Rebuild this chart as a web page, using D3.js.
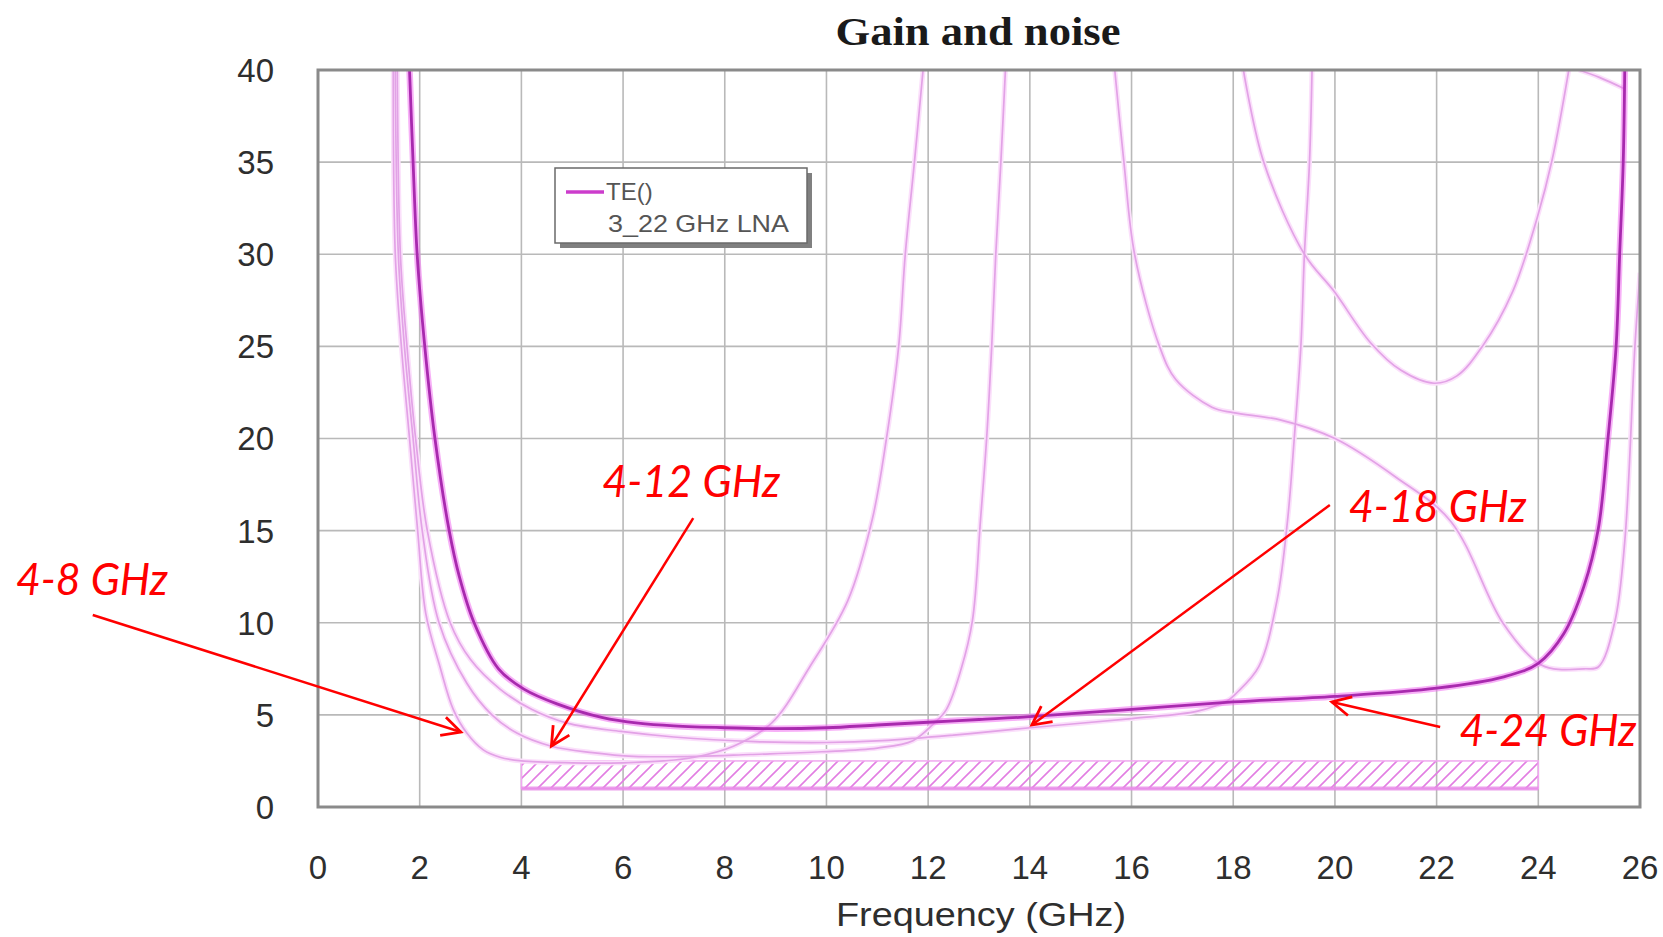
<!DOCTYPE html>
<html><head><meta charset="utf-8">
<script src="https://cdn.jsdelivr.net/npm/d3@7"></script>
<style>body{margin:0;background:#fff;}</style>
</head><body>
<svg id="chart" width="1663" height="937"></svg>
<script>
// ---------- data ----------
const xTicks = [0,2,4,6,8,10,12,14,16,18,20,22,24,26];
const yTicks = [0,5,10,15,20,25,30,35,40];
const chartTitle = "Gain and noise";
const xTitle = "Frequency (GHz)";
const legendLabels = ["TE()", "3_22 GHz LNA"];

// main TE() trace (4-24 GHz design) [GHz, value]
const mainTE = [[1.80,40],[1.87,35],[1.95,30],[2.10,25],[2.30,20],[2.58,15],[2.78,12.5],[3.07,10],[3.55,7.5],[4.05,6.4],[4.70,5.6],[5.60,4.85],[6.30,4.55],[7.0,4.4],[8.0,4.3],[9.0,4.25],[10.0,4.3],[11.0,4.45],[12.0,4.6],[13.0,4.75],[14.0,4.9],[16.0,5.3],[18.0,5.7],[20.0,6.0],[22.0,6.45],[23.3,7.05],[24.0,7.8],[24.5,9.4],[24.9,12.0],[25.18,15.1],[25.37,20],[25.53,25],[25.6,30],[25.67,35],[25.7,40]];
// other designs (light traces)
const curve4to8 = [[1.48,40],[1.52,30],[1.64,25],[1.80,20],[1.96,15],[2.12,10.5],[2.4,7.6],[2.66,5.3],[2.93,4.0],[3.25,3.1],[3.58,2.7],[4.0,2.5],[5.0,2.4],[6.0,2.4],[6.8,2.5],[7.4,2.7],[8.17,3.3],[8.92,4.55],[9.67,7.6],[10.42,11.2],[10.9,15.6],[11.18,20],[11.42,25],[11.55,30],[11.73,35],[11.9,40]];
const curve4to12 = [[1.52,40],[1.58,30],[1.70,25],[1.87,20],[2.05,15],[2.38,10],[2.93,6.7],[3.42,5.0],[3.92,4.0],[4.59,3.3],[5.4,2.95],[6.2,2.75],[7.5,2.75],[8.5,2.85],[9.9,3.0],[11.0,3.2],[11.7,3.6],[12.1,4.5],[12.36,5.3],[12.65,7.5],[12.87,10.1],[13.03,15.6],[13.15,20],[13.25,25],[13.33,30],[13.43,35],[13.52,40]];
const curve4to18 = [[1.56,40],[1.62,30],[1.75,25],[1.92,20],[2.15,15],[2.6,10],[3.0,8.0],[3.58,6.4],[4.2,5.3],[4.9,4.55],[5.96,4.1],[7.0,3.8],[8.6,3.55],[10.0,3.5],[11.1,3.6],[12.5,3.9],[14.0,4.3],[16.0,4.8],[17.3,5.2],[17.9,5.8],[18.07,6.2],[18.5,7.6],[18.86,11.2],[19.07,15.6],[19.2,20],[19.33,25],[19.4,30],[19.5,35],[19.55,40]];
const curveDesc = [[15.67,40],[15.85,35],[16.06,30],[16.55,25],[16.87,23.2],[17.58,21.7],[18.0,21.4],[18.94,21.0],[20.0,20.0],[21.2,17.9],[22.28,15.5],[23.3,10.0],[24.0,7.8],[24.3,7.5],[24.9,7.5],[25.18,7.6],[25.5,10],[25.7,14.4],[25.9,25],[26.0,29]];
const curveU = [[18.2,40],[18.6,35],[19.4,30],[19.98,28],[20.7,25.2],[21.3,23.7],[21.95,23.0],[22.4,23.4],[22.9,25],[23.5,28],[23.98,32],[24.27,35.1],[24.6,40]];
const curveTop = [[24.8,40],[25.2,39.6],[25.68,39.0]];
// hatched noise goal region [fStart, fEnd, low, high]
const goalBox = [4, 24, 1.0, 2.5];
// annotations in data units: text anchor (x,y), arrow start, arrow tip
const annLabels = ["4-8 GHz","4-12 GHz","4-18 GHz","4-24 GHz"];
const annText   = [[-5.94,11.5],[5.59,16.85],[20.27,15.45],[22.45,3.3]];
const annFrom   = [[-4.43,10.42],[7.38,15.68],[19.9,16.39],[22.07,4.34]];
const annTo     = [[2.81,4.07],[4.59,3.31],[14.04,4.45],[19.94,5.70]];
const annWidth  = [152,178,178,177];

// ---------- chart ----------
const svg = d3.select("#chart");
const L = 318, R = 1640, T = 70, B = 807;
const x = d3.scaleLinear().domain([0,26]).range([L,R]);
const y = d3.scaleLinear().domain([0,40]).range([B,T]);

svg.append("rect").attr("width",1663).attr("height",937).attr("fill","#fff");

const defs = svg.append("defs");
defs.append("clipPath").attr("id","plotClip").append("rect")
  .attr("x",L).attr("y",T).attr("width",R-L).attr("height",B-T);
const pat = defs.append("pattern").attr("id","hatch").attr("patternUnits","userSpaceOnUse")
  .attr("width",13).attr("height",13);
pat.append("path").attr("d","M-3,3 L3,-3 M0,13 L13,0 M10,16 L16,10")
  .attr("stroke","#e27ee2").attr("stroke-width",1.6).attr("fill","none");

// grid
const grid = svg.append("g");
grid.selectAll(".vg").data(xTicks).join("line")
  .attr("x1",d=>x(d)).attr("x2",d=>x(d)).attr("y1",T).attr("y2",B)
  .attr("stroke","#b9b9b9").attr("stroke-width",1.6);
grid.selectAll(".hg").data(yTicks).join("line")
  .attr("x1",L).attr("x2",R).attr("y1",d=>y(d)).attr("y2",d=>y(d))
  .attr("stroke","#b9b9b9").attr("stroke-width",1.6);

const plot = svg.append("g").attr("clip-path","url(#plotClip)");

// goal box
plot.append("rect")
  .attr("x",x(goalBox[0])).attr("y",y(goalBox[3]))
  .attr("width",x(goalBox[1])-x(goalBox[0])).attr("height",y(goalBox[2])-y(goalBox[3]))
  .attr("fill","url(#hatch)").attr("stroke","#f0a8f0").attr("stroke-width",1.5);
plot.append("line")
  .attr("x1",x(goalBox[0])).attr("x2",x(goalBox[1]))
  .attr("y1",y(goalBox[2])).attr("y2",y(goalBox[2]))
  .attr("stroke","#e88ae8").attr("stroke-width",4).attr("opacity",0.8);

const line = d3.line().x(d=>x(d[0])).y(d=>y(d[1])).curve(d3.curveCatmullRom.alpha(0.5));
const lightCurves = [curve4to8, curve4to12, curve4to18, curveDesc, curveU, curveTop];
plot.selectAll(".lh").data(lightCurves).join("path")
  .attr("d",line).attr("fill","none").attr("stroke","#fbe0fb").attr("stroke-width",5);
plot.selectAll(".lc").data(lightCurves).join("path")
  .attr("d",line).attr("fill","none").attr("stroke","#e2a2e6").attr("stroke-width",1.7);

// main trace
plot.append("path").datum(mainTE).attr("d",line).attr("fill","none")
  .attr("stroke","#f070f0").attr("stroke-width",6.5).attr("opacity",0.55);
plot.append("path").datum(mainTE).attr("d",line).attr("fill","none")
  .attr("stroke","#a82aae").attr("stroke-width",2.8);

// border
svg.append("rect").attr("x",L).attr("y",T).attr("width",R-L).attr("height",B-T)
  .attr("fill","none").attr("stroke","#8a8a8a").attr("stroke-width",3);

// tick labels
svg.append("g").selectAll("text").data(yTicks).join("text")
  .attr("x",L-44).attr("y",d=>y(d)).attr("dy","0.36em")
  .attr("text-anchor","end").attr("font-family","Liberation Sans, Arial, sans-serif")
  .attr("font-size",33).attr("fill","#2e2e2e").text(d=>d);
svg.append("g").selectAll("text").data(xTicks).join("text")
  .attr("x",d=>x(d)).attr("y",B+72)
  .attr("text-anchor","middle").attr("font-family","Liberation Sans, Arial, sans-serif")
  .attr("font-size",33).attr("fill","#2e2e2e").text(d=>d);

// axis title
svg.append("text").attr("x",(L+R)/2+2).attr("y",926).attr("text-anchor","middle")
  .attr("font-family","Liberation Sans, Arial, sans-serif").attr("font-size",34)
  .attr("fill","#2e2e2e").attr("textLength",290).attr("lengthAdjust","spacingAndGlyphs")
  .text(xTitle);

// title
svg.append("text").attr("x",978).attr("y",45).attr("text-anchor","middle")
  .attr("font-family","Liberation Serif, Times New Roman, serif").attr("font-weight","bold")
  .attr("font-size",40).attr("fill","#1a1a1a").attr("textLength",285).attr("lengthAdjust","spacingAndGlyphs")
  .text(chartTitle);

// legend
const lg = svg.append("g");
lg.append("rect").attr("x",560).attr("y",173).attr("width",252).attr("height",75).attr("fill","#808080");
lg.append("rect").attr("x",555).attr("y",168).attr("width",252).attr("height",75)
  .attr("fill","#fff").attr("stroke","#6a6a6a").attr("stroke-width",1.5);
lg.append("line").attr("x1",566).attr("x2",604).attr("y1",192).attr("y2",192)
  .attr("stroke","#cc3ccc").attr("stroke-width",3.5);
lg.append("text").attr("x",606).attr("y",200).attr("font-family","Liberation Sans, Arial, sans-serif")
  .attr("font-size",24).attr("fill","#555").text(legendLabels[0]);
lg.append("text").attr("x",608).attr("y",232).attr("font-family","Liberation Sans, Arial, sans-serif")
  .attr("font-size",24).attr("fill","#555").attr("textLength",181).attr("lengthAdjust","spacingAndGlyphs")
  .text(legendLabels[1]);

// annotations
const ann = svg.append("g");
annLabels.forEach((lab,i)=>{
  ann.append("text").attr("x",x(annText[i][0])).attr("y",y(annText[i][1]))
    .attr("font-family","Lato, Carlito, sans-serif").attr("font-style","italic")
    .attr("font-size",44).attr("fill","#ff0000")
    .attr("textLength",annWidth[i]).attr("lengthAdjust","spacingAndGlyphs").text(lab);
  const x1 = x(annFrom[i][0]), y1 = y(annFrom[i][1]);
  const x2 = x(annTo[i][0]), y2 = y(annTo[i][1]);
  ann.append("line").attr("x1",x1).attr("y1",y1).attr("x2",x2).attr("y2",y2)
    .attr("stroke","#ff0000").attr("stroke-width",2.5);
  const ang = Math.atan2(y1-y2, x1-x2);
  const len = 21, spread = 27*Math.PI/180;
  const p = [ang-spread, ang+spread].map(a=>[x2+len*Math.cos(a), y2+len*Math.sin(a)]);
  ann.append("path").attr("d",`M${p[0][0]},${p[0][1]} L${x2},${y2} L${p[1][0]},${p[1][1]}`)
    .attr("fill","none").attr("stroke","#ff0000").attr("stroke-width",2.8);
});
</script>
</body></html>
